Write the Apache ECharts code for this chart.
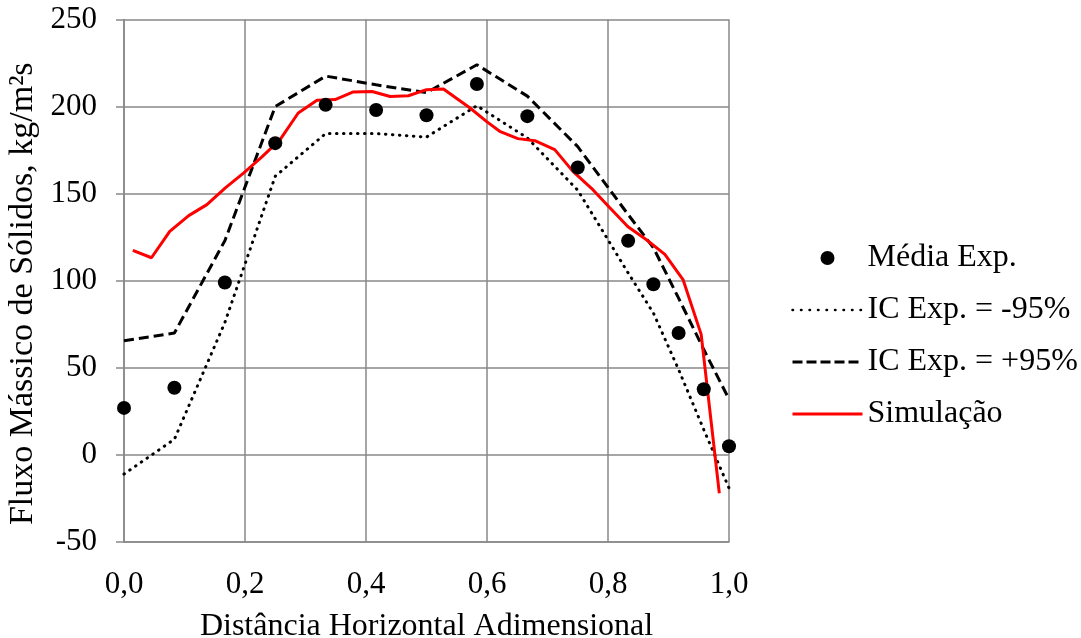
<!DOCTYPE html>
<html><head><meta charset="utf-8">
<script src="https://cdn.jsdelivr.net/npm/echarts@6/dist/echarts.min.js"></script>
<style>html,body{margin:0;padding:0;background:#fff}#c{width:1081px;height:638px}</style>
</head><body><div id="c"></div>
<script>
const expX = [0, 0.0833, 0.1667, 0.25, 0.3333, 0.4167, 0.5, 0.5833, 0.6667, 0.75, 0.8333, 0.875, 0.9167, 0.9583, 1.0];
const mediaExp = [27, 38.6, 99, 179, 201, 198, 195, 213, 194.5, 165, 123, 98, 70, 37.7, 5];
const icUpper = [65.5, 70, 123, 200, 217.5, 212.5, 208, 224, 206, 177, 138, 119, 90, 60.5, 32];
const icLower = [-11, 9, 76, 160, 184.5, 184.5, 182.5, 200.5, 182, 152, 104.5, 81.5, 49, 14.5, -19];
const simX = [0.0146, 0.0454, 0.0756, 0.107, 0.137, 0.1675, 0.198, 0.228, 0.258, 0.288, 0.319, 0.349, 0.379, 0.41, 0.44, 0.47, 0.5, 0.528, 0.572, 0.599, 0.621, 0.651, 0.679, 0.712, 0.742, 0.775, 0.803, 0.833, 0.863, 0.894, 0.924, 0.954, 0.984];
const simY = [117.5, 113.2, 128.4, 137.4, 143.7, 153.3, 161.9, 171.1, 181, 196.3, 203.6, 204, 208.4, 208.7, 205.8, 206.2, 209.7, 210.1, 199.2, 191.5, 185.8, 181.6, 180.4, 175.3, 162.8, 152.3, 141.9, 131, 123.7, 115.1, 100.7, 69.2, -22];
const names = ['Média Exp.', 'IC Exp. = -95%', 'IC Exp. = +95%', 'Simulação'];
const xTitle = 'Distância Horizontal Adimensional';
const yTitle = 'Fluxo Mássico de Sólidos, kg/m²s';

const zip = (xs, ys) => xs.map((x, i) => [x, ys[i]]);
const FONT = 'Liberation Serif';
const GRID = '#898989';
const hidden = {color: 'rgba(0,0,0,0)', borderWidth: 0, opacity: 0};
const chart = echarts.init(document.getElementById('c'), null, {renderer: 'canvas'});
chart.setOption({
  animation: false,
  textStyle: {fontFamily: FONT, color: '#000'},
  grid: {left: 124, right: 352, top: 19.5, bottom: 96, containLabel: false, outerBoundsMode: 'none'},
  legend: {
    orient: 'vertical', left: 791, top: 242, padding: 0, itemWidth: 70, itemHeight: 14, itemGap: 20,
    textStyle: {fontFamily: FONT, fontSize: 32, color: '#000', lineHeight: 31},
    data: [
      {name: names[0]},
      {name: names[1], itemStyle: hidden, lineStyle: {width: 2.5, type: [0.5, 8], cap: 'round', color: '#000'}},
      {name: names[2], itemStyle: hidden, lineStyle: {width: 3, type: [10, 4], color: '#000'}},
      {name: names[3], itemStyle: hidden, lineStyle: {width: 3, color: '#FF0000'}}
    ]
  },
  xAxis: {
    type: 'value', min: 0, max: 1, interval: 0.2,
    name: xTitle, nameLocation: 'middle', nameGap: 69,
    nameTextStyle: {fontFamily: FONT, fontSize: 32, color: '#000'},
    axisLine: {show: true, onZero: false, lineStyle: {color: GRID, width: 1.5}},
    axisTick: {show: false},
    axisLabel: {fontFamily: FONT, fontSize: 31, color: '#000', margin: 27,
      formatter: v => v.toFixed(1).replace('.', ',')},
    splitLine: {show: true, lineStyle: {color: GRID, width: 1.5}}
  },
  yAxis: {
    type: 'value', min: -50, max: 250, interval: 50,
    name: yTitle, nameLocation: 'middle', nameGap: 75,
    nameTextStyle: {fontFamily: FONT, fontSize: 34, color: '#000', padding: [0, 26, 0, 0]},
    axisLine: {show: true, onZero: false, lineStyle: {color: GRID, width: 1.5}},
    axisTick: {show: true, length: 8, lineStyle: {color: GRID, width: 1.5}},
    axisLabel: {fontFamily: FONT, fontSize: 31, color: '#000', margin: 27},
    splitLine: {show: true, lineStyle: {color: GRID, width: 1.5}}
  },
  series: [
    {name: names[1], type: 'line', data: zip(expX, icLower), showSymbol: false, symbol: 'none',
      lineStyle: {color: '#000', width: 3, type: [0.5, 6.5], cap: 'round'}, itemStyle: {color: '#000'}, z: 2},
    {name: names[2], type: 'line', data: zip(expX, icUpper), showSymbol: false, symbol: 'none',
      lineStyle: {color: '#000', width: 3, type: [10, 5]}, itemStyle: {color: '#000'}, z: 2},
    {name: names[3], type: 'line', data: zip(simX, simY), showSymbol: false, symbol: 'none',
      lineStyle: {color: '#FF0000', width: 3}, itemStyle: {color: '#FF0000'}, z: 3},
    {name: names[0], type: 'scatter', data: zip(expX, mediaExp), symbol: 'circle', symbolSize: 14,
      itemStyle: {color: '#000', opacity: 1}, z: 4}
  ]
});
</script></body></html>
